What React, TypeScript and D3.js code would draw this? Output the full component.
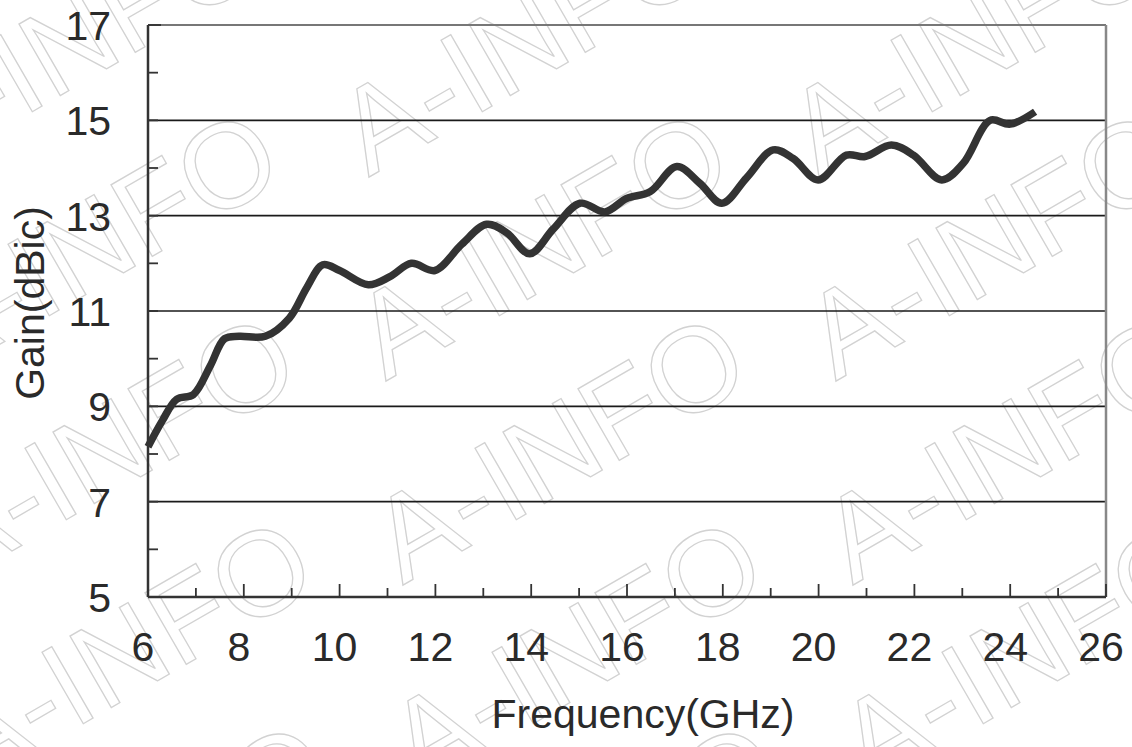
import React from "react";
import * as d3 from "d3";

const freq = [6.0, 6.3, 6.6, 6.95, 7.3, 7.6, 7.9, 8.45, 8.95, 9.32, 9.65, 10.0, 10.6, 11.05, 11.5, 11.99, 12.55, 13.07, 13.49, 13.97, 14.46, 15.02, 15.54, 15.99, 16.48, 17.04, 17.52, 17.98, 18.5, 19.05, 19.47, 19.99, 20.58, 20.97, 21.52, 21.98, 22.57, 23.02, 23.58, 24.0, 24.52];
const gain = [8.15, 8.7, 9.15, 9.25, 9.85, 10.42, 10.47, 10.47, 10.85, 11.5, 11.97, 11.85, 11.55, 11.72, 12.0, 11.85, 12.4, 12.82, 12.64, 12.2, 12.72, 13.26, 13.08, 13.36, 13.5, 14.03, 13.68, 13.26, 13.8, 14.38, 14.2, 13.75, 14.27, 14.24, 14.48, 14.27, 13.75, 14.1, 15.0, 14.92, 15.18];

const xTickLabels = [6, 8, 10, 12, 14, 16, 18, 20, 22, 24, 26];
const yTickLabels = [5, 7, 9, 11, 13, 15, 17];
const gridValues = [7, 9, 11, 13, 15];
const xTitle = "Frequency(GHz)";
const yTitle = "Gain(dBic)";
const watermark = "A-INFO";

const W = 1132;
const H = 747;
const L = 148, R = 1106, T = 25, B = 597;
const FONT = "'Liberation Sans', Arial, sans-serif";

export default function App() {
  const x = d3.scaleLinear().domain([6, 26]).range([L, R]);
  const y = d3.scaleLinear().domain([5, 17]).range([B, T]);
  const pts = freq.map((f, i) => [f, gain[i]] as [number, number]);
  const line = d3
    .line<[number, number]>()
    .x((d) => x(d[0]))
    .y((d) => y(d[1]))
    .curve(d3.curveCatmullRom.alpha(0.5));

  const xMinor = d3.range(6, 27, 1);
  const yMinor = d3.range(5, 18, 1);

  const wm: { ax: number; ay: number; key: string }[] = [];
  for (let i = -2; i <= 3; i++) {
    for (let j = -1; j <= 4; j++) {
      const ax = 399 + 450 * i + 17 * (j - 1);
      const ay = 324 + 204 * (j - 1);
      wm.push({ ax, ay, key: `${i}_${j}` });
    }
  }

  return (
    <svg
      width={W}
      height={H}
      style={{ position: "fixed", left: 0, top: 0, background: "#fff" }}
      fontFamily={FONT}
    >
      <rect x={0} y={0} width={W} height={H} fill="#fff" />
      <g>
        {wm.map((w) => (
          <text
            key={w.key}
            transform={`translate(${w.ax},${w.ay}) rotate(-30)`}
            x={-40}
            y={43}
            fontSize={120}
            fill="none"
            stroke="#d2d2d2"
            strokeWidth={1.3}
            fontFamily={FONT}
          >
            {watermark}
          </text>
        ))}
      </g>
      {/* grid lines */}
      {gridValues.map((v) => (
        <line key={v} x1={L} x2={R} y1={y(v)} y2={y(v)} stroke="#1a1a1a" strokeWidth={1.6} />
      ))}
      {/* frame top/right */}
      <line x1={L} x2={R} y1={T} y2={T} stroke="#777" strokeWidth={2} />
      <line x1={R} x2={R} y1={T} y2={B} stroke="#888" strokeWidth={2.5} />
      {/* y ticks */}
      {yMinor.map((v) => (
        <line key={"yt" + v} x1={L} x2={L + (v === 17 ? 13 : 10)} y1={y(v)} y2={y(v)} stroke="#333" strokeWidth={1.8} />
      ))}
      {/* x ticks */}
      {xMinor.map((v) => (
        <line key={"xt" + v} x1={x(v)} x2={x(v)} y1={B} y2={B - (v % 2 === 0 ? 13 : 9)} stroke="#333" strokeWidth={1.8} />
      ))}
      {/* axes */}
      <line x1={L} x2={L} y1={T} y2={B} stroke="#333" strokeWidth={2.5} />
      <line x1={L} x2={R} y1={B} y2={B} stroke="#333" strokeWidth={2.5} />
      {/* curve */}
      <path d={line(pts) || ""} fill="none" stroke="#333" strokeWidth={7.5} strokeLinejoin="round" strokeLinecap="butt" />
      {/* y tick labels */}
      {yTickLabels.map((v) => (
        <text key={"yl" + v} x={111} y={y(v) + 15} textAnchor="end" fontSize={41} fill="#2a2a2a">
          {v}
        </text>
      ))}
      {/* x tick labels */}
      {xTickLabels.map((v) => (
        <text key={"xl" + v} x={x(v) - 5} y={661} textAnchor="middle" fontSize={41} fill="#2a2a2a">
          {v}
        </text>
      ))}
      <text x={643} y={728} textAnchor="middle" fontSize={41} fill="#2a2a2a">
        {xTitle}
      </text>
      <text transform={`translate(44,303) rotate(-90)`} textAnchor="middle" fontSize={41} fill="#2a2a2a">
        {yTitle}
      </text>
    </svg>
  );
}
